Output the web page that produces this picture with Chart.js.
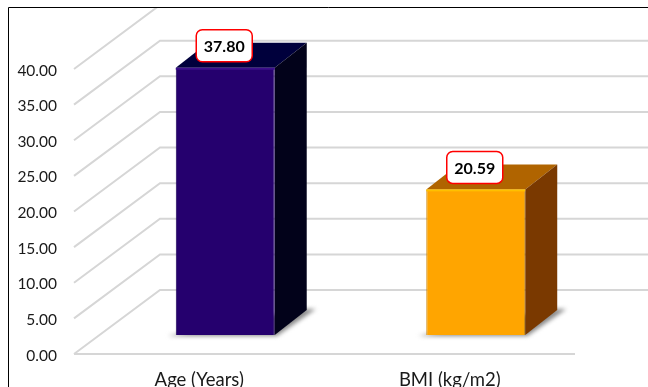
<!DOCTYPE html>
<html>
<head>
<meta charset="utf-8">
<script src="https://cdn.jsdelivr.net/npm/chart.js@4"></script>
<style>
  html, body { margin: 0; padding: 0; background: #fff; overflow: hidden; }
  #wrap { width: 648px; height: 387px; position: relative; }
</style>
</head>
<body>
<div id="wrap"><canvas id="chart"></canvas></div>
<script>
const categories = ['Age (Years)', 'BMI (kg/m2)'];
const values = [37.80, 20.59];
const frontColors = ['#25006e', '#ffa500'];
const edgeColors = ['#1c0058', '#c98200'];
const capColors = ['#3c0f8c', '#ffc000'];
const topColors = ['#00003c', '#b06400'];
const sideColors = ['#02021a', '#7a3900'];

// fake 3D: how far the back wall and the bars sit from the front of the floor
const wallDx = 86, wallDy = 64;
const barDx = 26;
const faceDx = 32, faceDy = 25;
const gridColor = '#d6d6d6';

const wallPlugin = {
    id: 'wall',
    beforeDraw(chart) {
        const ctx = chart.ctx;
        const y = chart.scales.y;
        const { left, right, bottom } = chart.chartArea;

        ctx.save();
        ctx.beginPath();
        ctx.rect(8, 8, chart.width - 8, chart.height - 8);
        ctx.clip();
        ctx.strokeStyle = gridColor;
        ctx.lineWidth = 2;
        y.ticks.forEach(t => {
            const py = y.getPixelForValue(t.value);
            ctx.beginPath();
            ctx.moveTo(left, py);
            ctx.lineTo(left + wallDx, py - wallDy);
            ctx.lineTo(chart.width, py - wallDy);
            ctx.stroke();
        });
        ctx.beginPath();
        ctx.moveTo(left, bottom);
        ctx.lineTo(right, bottom);
        ctx.stroke();
        ctx.restore();

        // frame, open on the right and at the bottom
        ctx.save();
        ctx.strokeStyle = '#000';
        ctx.lineWidth = 1;
        ctx.beginPath();
        ctx.moveTo(8.5, chart.height);
        ctx.lineTo(8.5, 7.5);
        ctx.lineTo(chart.width, 7.5);
        ctx.stroke();
        ctx.restore();
    }
};

const boxPlugin = {
    id: 'box',
    beforeDatasetsDraw(chart) {
        const ctx = chart.ctx;
        chart.getDatasetMeta(0).data.forEach((bar, i) => {
            const x0 = bar.x + barDx - bar.width / 2;
            const x1 = x0 + bar.width;

            // floor shadow
            ctx.save();
            ctx.filter = 'blur(2px)';
            ctx.fillStyle = '#8a8a8a';
            ctx.beginPath();
            ctx.moveTo(x0 - 8, bar.base + 1);
            ctx.lineTo(x1 + 2, bar.base + 1);
            ctx.lineTo(x1 + faceDx + 9, bar.base - faceDy - 1);
            ctx.lineTo(x1 + faceDx - 4, bar.base - faceDy - 1);
            ctx.closePath();
            ctx.fill();
            ctx.restore();

            // top face
            ctx.fillStyle = topColors[i];
            ctx.beginPath();
            ctx.moveTo(x0, bar.y);
            ctx.lineTo(x0 + faceDx, bar.y - faceDy);
            ctx.lineTo(x1 + faceDx, bar.y - faceDy);
            ctx.lineTo(x1, bar.y);
            ctx.closePath();
            ctx.fill();

            // side face
            ctx.fillStyle = sideColors[i];
            ctx.beginPath();
            ctx.moveTo(x1, bar.y);
            ctx.lineTo(x1 + faceDx, bar.y - faceDy);
            ctx.lineTo(x1 + faceDx, bar.base - faceDy);
            ctx.lineTo(x1, bar.base);
            ctx.closePath();
            ctx.fill();
        });
    },
    beforeDatasetDraw(chart) {
        chart.ctx.save();
        chart.ctx.translate(barDx, 0);
    },
    afterDatasetDraw(chart) {
        chart.ctx.restore();
    },
    afterDatasetsDraw(chart) {
        const ctx = chart.ctx;
        chart.getDatasetMeta(0).data.forEach((bar, i) => {
            const x0 = bar.x + barDx - bar.width / 2;

            // lighter edge along the top of the front face
            ctx.fillStyle = capColors[i];
            ctx.fillRect(x0, bar.y, bar.width, 2);

            // value callout
            const w = 56, h = 32;
            const cx = bar.x + barDx - 1;
            const cy = bar.y - 22;
            ctx.beginPath();
            ctx.roundRect(cx - w / 2, cy - h / 2, w, h, 6);
            ctx.fillStyle = '#fff';
            ctx.fill();
            ctx.strokeStyle = '#ff0000';
            ctx.lineWidth = 1.5;
            ctx.stroke();
            ctx.fillStyle = '#000';
            ctx.font = 'bold 16px Lato';
            ctx.textAlign = 'center';
            ctx.textBaseline = 'middle';
            ctx.fillText(values[i].toFixed(2), cx, cy + 1);
        });
    }
};

new Chart(document.getElementById('chart'), {
    type: 'bar',
    data: {
        labels: categories,
        datasets: [{
            data: values,
            yAxisID: 'yBar',
            backgroundColor: frontColors,
            borderColor: edgeColors,
            borderWidth: 1,
            barPercentage: 1,
            categoryPercentage: 0.395,
            clip: false
        }]
    },
    options: {
        responsive: true,
        maintainAspectRatio: false,
        animation: false,
        layout: { padding: { top: 69, right: 73, left: 0, bottom: 0 } },
        plugins: { legend: { display: false }, tooltip: { enabled: false } },
        scales: {
            x: {
                grid: { display: false },
                border: { display: false },
                ticks: { color: '#1a1a1a', font: { family: 'Lato', size: 18.5 }, padding: 7, maxRotation: 0 },
                afterFit(scale) { scale.height = 33; }
            },
            y: {
                min: 0,
                max: 40,
                grid: { display: false },
                border: { display: false },
                ticks: {
                    stepSize: 5,
                    color: '#1a1a1a',
                    font: { family: 'Lato', size: 15.5 },
                    padding: 9,
                    labelOffset: 1.5,
                    callback: v => v.toFixed(2)
                },
                afterFit(scale) { scale.width = 74; }
            },
            // the bars stand further back on the floor, so they get their own baseline
            yBar: {
                display: false,
                min: -2.69,
                max: 37.62
            }
        }
    },
    plugins: [wallPlugin, boxPlugin]
});
</script>
</body>
</html>
